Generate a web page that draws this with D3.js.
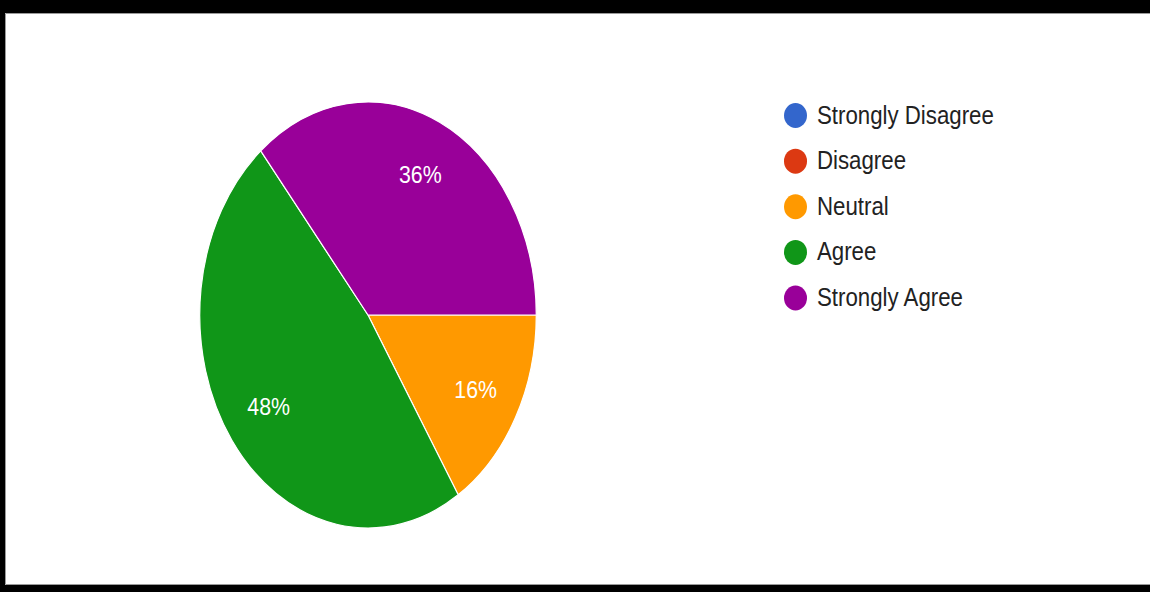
<!DOCTYPE html>
<html>
<head>
<meta charset="utf-8">
<script src="https://cdn.jsdelivr.net/npm/d3@7"></script>
<style>
  html, body { margin: 0; padding: 0; background: #fff; overflow: hidden; }
  svg { display: block; }
</style>
</head>
<body>
<svg id="chart" width="1150" height="592"></svg>
<script>
// Survey responses (percent of respondents)
const categories = ["Strongly Disagree", "Disagree", "Neutral", "Agree", "Strongly Agree"];
const values = [0, 0, 16, 48, 36];
const colors = ["#3366cc", "#dc3912", "#ff9900", "#109618", "#990099"];

const W = 1150, H = 592;
const svg = d3.select("#chart");

// White panel with a black frame on top, left and bottom
svg.append("rect").attr("width", W).attr("height", H).attr("fill", "#fff");
const frame = svg.append("g").attr("fill", "#000");
frame.append("rect").attr("x", 0).attr("y", 0).attr("width", W).attr("height", 13);
frame.append("rect").attr("x", 0).attr("y", 0).attr("width", 5).attr("height", H);
frame.append("rect").attr("x", 0).attr("y", 585).attr("width", W).attr("height", H - 585);
svg.append("path")
  .attr("d", `M${W},13.5 H5.5 V584.5 H${W}`)
  .attr("fill", "none").attr("stroke", "#9a9a9a").attr("stroke-width", 1);

const data = categories.map((c, i) => ({ category: c, value: values[i], color: colors[i] }));

// Pie geometry: slices begin at 3 o'clock and run clockwise
const cx = 368, cy = 315, r = 213, sx = 0.79, textSx = 0.89;
const pie = d3.pie().sort(null).value(d => d.value)
  .startAngle(Math.PI / 2).endAngle(Math.PI / 2 + 2 * Math.PI);
const arcs = pie(data);
const arc = d3.arc().innerRadius(0).outerRadius(r);
const labelArc = d3.arc().innerRadius(r * 0.73).outerRadius(r * 0.73);

const pieG = svg.append("g").attr("transform", `translate(${cx},${cy}) scale(${sx},1)`);
pieG.selectAll("path")
  .data(arcs.filter(d => d.value > 0))
  .join("path")
  .attr("d", arc)
  .attr("fill", d => d.data.color)
  .attr("stroke", "#fff")
  .attr("stroke-width", 1.2)
  .attr("vector-effect", "non-scaling-stroke");

// Percentage labels inside slices
const total = d3.sum(values);
svg.append("g").selectAll("text")
  .data(arcs.filter(d => d.value > 0))
  .join("text")
  .attr("transform", d => {
    const [x, y] = labelArc.centroid(d);
    return `translate(${cx + x * sx},${cy + y}) scale(${textSx},1)`;
  })
  .attr("text-anchor", "middle")
  .attr("dy", "0.35em")
  .attr("font-family", "'Liberation Sans', Arial, sans-serif")
  .attr("font-size", 24)
  .attr("fill", "#fff")
  .text(d => Math.round(d.value / total * 100) + "%");

// Legend
const legendY = d3.scalePoint().domain(categories).range([115.5, 298]);
const legend = svg.append("g");
const rows = legend.selectAll("g")
  .data(data)
  .join("g")
  .attr("transform", d => `translate(0,${legendY(d.category)})`);
rows.append("ellipse")
  .attr("cx", 795.5).attr("cy", 0)
  .attr("rx", 11.5).attr("ry", 12.5)
  .attr("fill", d => d.color);
rows.append("text")
  .attr("transform", `translate(817,8) scale(${textSx},1)`)
  .attr("font-family", "'Liberation Sans', Arial, sans-serif")
  .attr("font-size", 25)
  .attr("fill", "#222")
  .text(d => d.category);
</script>
</body>
</html>
